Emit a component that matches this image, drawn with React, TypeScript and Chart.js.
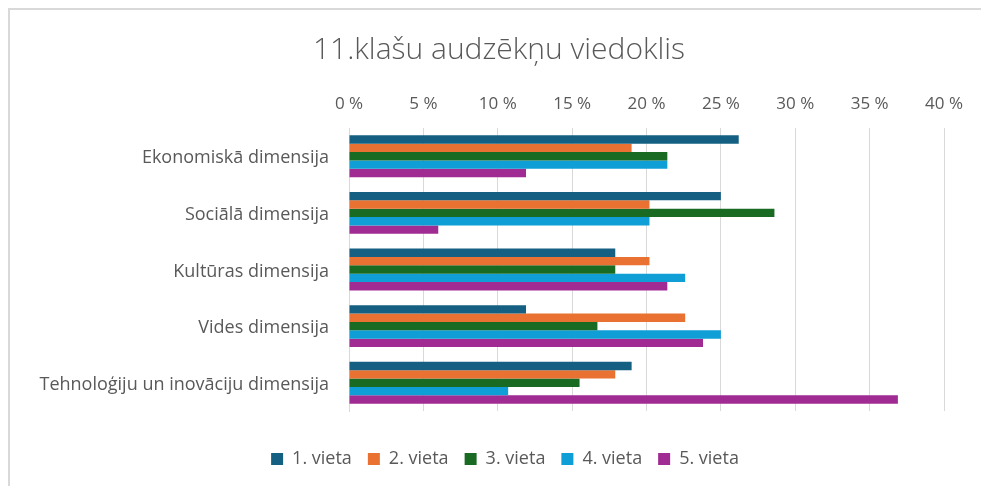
import React, { useEffect, useRef } from "react";
import { Chart, registerables } from "chart.js";

Chart.register(...registerables);

const categories = [
  "Ekonomiskā dimensija",
  "Sociālā dimensija",
  "Kultūras dimensija",
  "Vides dimensija",
  "Tehnoloģiju un inovāciju dimensija",
];
const seriesNames = ["1. vieta", "2. vieta", "3. vieta", "4. vieta", "5. vieta"];
const vieta1 = [26.2, 25.0, 17.9, 11.9, 19.0];
const vieta2 = [19.0, 20.2, 20.2, 22.6, 17.9];
const vieta3 = [21.4, 28.6, 17.9, 16.7, 15.5];
const vieta4 = [21.4, 20.2, 22.6, 25.0, 10.7];
const vieta5 = [11.9, 6.0, 21.4, 23.8, 36.9];
const seriesValues = [vieta1, vieta2, vieta3, vieta4, vieta5];
const colors = ["#156082", "#E97132", "#196B24", "#0F9ED5", "#A02B93"];
const axisMin = 0;
const axisMax = 40;
const axisStep = 5;
const titleText = "11.klašu audzēkņu viedoklis";

const FONT = "'Open Sans', 'Noto Sans', sans-serif";
const TEXT = "#595959";

const frame = {
  id: "frame",
  beforeDraw(chart: any) {
    const ctx = chart.ctx;
    ctx.save();
    ctx.fillStyle = "#ffffff";
    ctx.fillRect(0, 0, chart.width, chart.height);
    ctx.strokeStyle = "#d9d9d9";
    ctx.lineWidth = 2;
    ctx.beginPath();
    ctx.moveTo(9, chart.height);
    ctx.lineTo(9, 9);
    ctx.lineTo(chart.width, 9);
    ctx.stroke();
    ctx.restore();
  },
  afterDraw(chart: any) {
    const ctx = chart.ctx;
    ctx.save();
    ctx.fillStyle = TEXT;
    ctx.font = `300 30px ${FONT}`;
    ctx.textAlign = "center";
    ctx.textBaseline = "middle";
    ctx.fillText(titleText, 499, 50);
    ctx.restore();
  },
};

export default function App() {
  const ref = useRef<HTMLCanvasElement | null>(null);
  useEffect(() => {
    if (!ref.current) return;
    const chart = new Chart(ref.current, {
      type: "bar",
      data: {
        labels: categories,
        datasets: seriesNames.map((name, i) => ({
          label: name,
          data: seriesValues[i],
          backgroundColor: colors[i],
          borderWidth: 0,
          categoryPercentage: 0.74,
          barPercentage: 1.0,
          xAxisID: "x",
          yAxisID: "y",
        })),
      },
      options: {
        indexAxis: "y",
        animation: false,
        responsive: false,
        maintainAspectRatio: false,
        layout: { padding: { left: 29, right: 0, top: 60, bottom: 8 } },
        plugins: {
          title: { display: false },
          legend: {
            position: "bottom",
            labels: {
              color: TEXT,
              font: { family: FONT, size: 18 },
              boxWidth: 12,
              boxHeight: 12,
              padding: 16,
            },
          },
          tooltip: { enabled: false },
        },
        scales: {
          x: {
            position: "top",
            min: axisMin,
            max: axisMax,
            ticks: {
              stepSize: axisStep,
              color: TEXT,
              font: { family: FONT, size: 17 },
              padding: 14,
              callback: (v: any) => `${v} %`,
            },
            grid: { color: "#d9d9d9", lineWidth: 1, drawTicks: false },
            border: { display: false },
            afterFit: (scale: any) => {
              scale.height = 68;
            },
          },
          x2: {
            type: "linear",
            position: "bottom",
            min: axisMin,
            max: axisMax,
            ticks: { display: false },
            grid: { display: false, drawTicks: false },
            border: { display: false },
            afterFit: (scale: any) => {
              scale.height = 23;
            },
          },
          y: {
            ticks: {
              color: TEXT,
              font: { family: FONT, size: 18 },
              padding: 20,
              labelOffset: 2,
            },
            grid: { display: false, drawTicks: false },
            border: { display: true, color: "#d9d9d9", width: 1 },
            afterFit: (scale: any) => {
              scale.width = 320;
            },
          },
          y2: {
            type: "linear",
            position: "right",
            ticks: { display: false },
            grid: { display: false, drawTicks: false },
            border: { display: false },
            afterFit: (scale: any) => {
              scale.width = 37;
            },
          },
        },
      },
      plugins: [frame],
    });
    return () => chart.destroy();
  }, []);
  return (
    <div style={{ position: "absolute", left: 0, top: 0, width: 981, height: 486 }}>
      <canvas ref={ref} width={981} height={486} style={{ width: 981, height: 486 }} />
    </div>
  );
}
